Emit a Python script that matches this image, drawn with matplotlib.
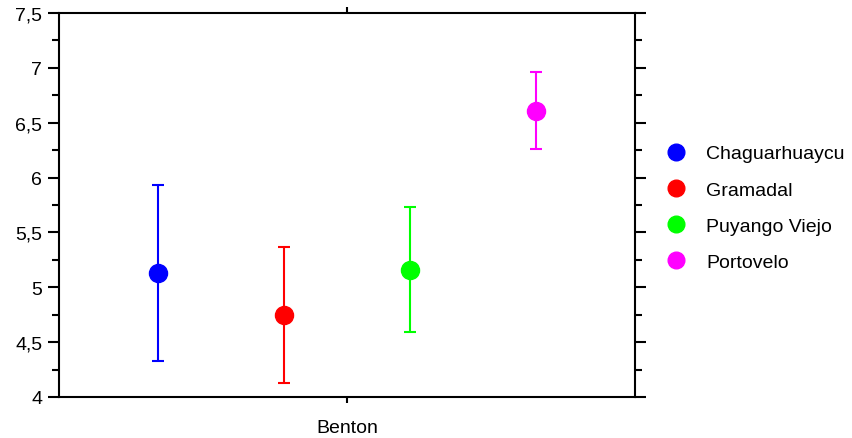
import matplotlib
matplotlib.use("Agg")
import matplotlib.pyplot as plt
from matplotlib.lines import Line2D
from matplotlib.ticker import FuncFormatter, MultipleLocator, FixedLocator

plt.rcParams['font.family'] = ['Liberation Sans', 'DejaVu Sans']

category = "Benton"
groups = ["Chaguarhuaycu", "Gramadal", "Puyango Viejo", "Portovelo"]
means = [5.13, 4.75, 5.16, 6.61]
errors = [0.80, 0.62, 0.57, 0.35]
colors = ["#0000ff", "#ff0000", "#00ff00", "#ff00ff"]

fig = plt.figure(figsize=(8.53, 4.39), dpi=100)
ax = fig.add_axes([0.0692, 0.0934, 0.6752, 0.8746])

offsets = [-1.5, -0.5, 0.5, 1.5]
for off, m, e, c in zip(offsets, means, errors, colors):
    ax.errorbar(off, m, yerr=e, fmt='o', color=c, ecolor=c,
                markersize=13, elinewidth=1.5, capsize=4, capthick=1.5,
                zorder=3)

ax.set_xlim(-2.286, 2.286)
ax.set_ylim(4, 7.5)

ax.xaxis.set_major_locator(FixedLocator([0]))
ax.set_xticklabels([category])
ax.yaxis.set_major_locator(MultipleLocator(0.5))
ax.yaxis.set_minor_locator(MultipleLocator(0.25))
ax.yaxis.set_major_formatter(FuncFormatter(lambda v, p: f"{v:g}".replace('.', ',')))

for s in ax.spines.values():
    s.set_linewidth(1.5)

ax.tick_params(axis='y', which='both', direction='out', left=True, right=True,
               labelsize=14, pad=4, width=1.5)
ax.tick_params(axis='y', which='major', length=8)
ax.tick_params(axis='y', which='minor', length=5)
ax.tick_params(axis='x', which='major', direction='out', top=True, bottom=True,
               length=4, width=1.5, labelsize=14, pad=12)

handles = [Line2D([], [], marker='o', linestyle='none', color=c, markersize=12)
           for c in colors]
fig.legend(handles, groups, loc='center left', bbox_to_anchor=(0.770, 0.524),
           frameon=False, fontsize=14, labelspacing=0.96, handletextpad=1.05,
           handlelength=1.0, borderpad=0)

fig.savefig("out.png", dpi=100)
